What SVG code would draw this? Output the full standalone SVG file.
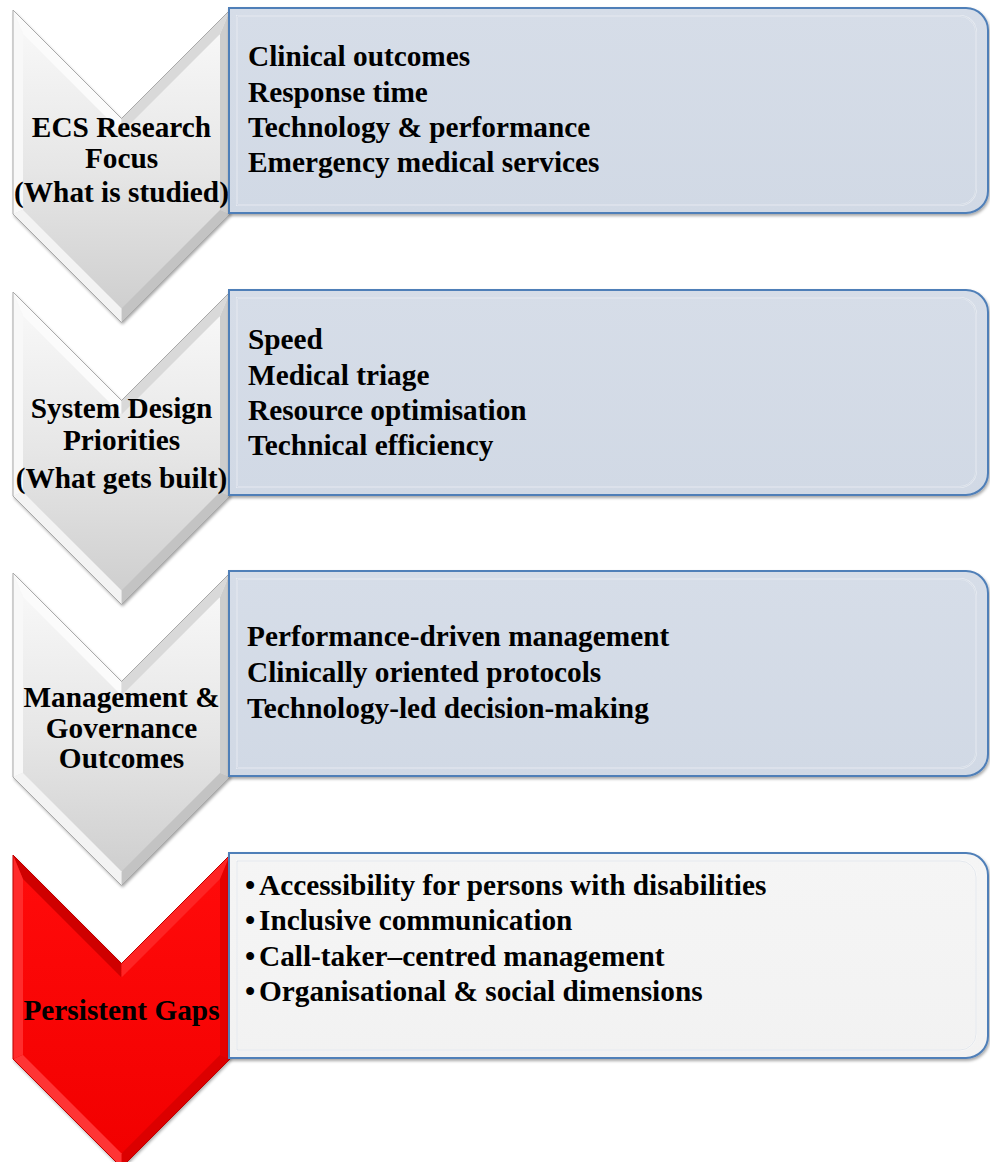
<svg xmlns="http://www.w3.org/2000/svg" width="990" height="1162" viewBox="0 0 990 1162">
  <defs>
    <linearGradient id="grayBody" x1="0" y1="0" x2="0" y2="1">
      <stop offset="0" stop-color="#f7f7f7"/>
      <stop offset="0.5" stop-color="#e6e6e6"/>
      <stop offset="1" stop-color="#cfcfcf"/>
    </linearGradient>
    <linearGradient id="redBody" x1="0" y1="0" x2="0" y2="1">
      <stop offset="0" stop-color="#ff0a0a"/>
      <stop offset="1" stop-color="#f20000"/>
    </linearGradient>
    <linearGradient id="blueBox" x1="0" y1="0" x2="0" y2="1">
      <stop offset="0" stop-color="#d6dde8"/>
      <stop offset="1" stop-color="#d1d9e5"/>
    </linearGradient>
    <linearGradient id="grayBox" x1="0" y1="0" x2="0" y2="1">
      <stop offset="0" stop-color="#f5f5f5"/>
      <stop offset="1" stop-color="#f2f2f2"/>
    </linearGradient>
    <filter id="shadow" x="-5%" y="-5%" width="112%" height="115%">
      <feDropShadow dx="1" dy="2" stdDeviation="1.5" flood-color="#000" flood-opacity="0.35"/>
    </filter>
    <!-- chevron outline, 217 wide, 312.5 tall, 45 degree notch and tip -->
    <path id="chev" d="M0,0 L108.5,108.5 L217,0 L217,204 L108.5,312.5 L0,204 Z"/>
    <path id="chevInner" d="M10,24.14 L108.5,122.64 L207,24.14 L207,199.86 L108.5,298.36 L10,199.86 Z"/>
    <path id="f0" d="M0,0 L108.5,108.5 L108.5,122.64 L10,24.14 Z"/>
    <path id="f1" d="M108.5,108.5 L217,0 L207,24.14 L108.5,122.64 Z"/>
    <path id="f2" d="M217,0 L217,204 L207,199.86 L207,24.14 Z"/>
    <path id="f3" d="M217,204 L108.5,312.5 L108.5,298.36 L207,199.86 Z"/>
    <path id="f4" d="M108.5,312.5 L0,204 L10,199.86 L108.5,298.36 Z"/>
    <path id="f5" d="M0,204 L0,0 L10,24.14 L10,199.86 Z"/>
    <!-- content panel: square left side, rounded right corners -->
    <path id="panel" d="M0,0 H737 A22,22 0 0 1 759,22 V183 A22,22 0 0 1 737,205 H0 Z"/>
    <path id="panelInner" d="M8,8 H731 A16,16 0 0 1 747,24 V181 A16,16 0 0 1 731,197 H8 Z"/>
  </defs>
  <style>
    text { font-family: "Liberation Serif", "Times New Roman", serif; font-weight: bold; font-size: 29.3px; fill: #000; }
    .label { text-anchor: middle; }
    .chev-outline { fill: none; stroke: #a9a9a9; stroke-width: 1; }
    .gray .body { fill: url(#grayBody); }
    .gray .f0 { fill: #fbfbfb; }
    .gray .f1 { fill: #d9d9d9; }
    .gray .f2 { fill: #cdcdcd; }
    .gray .f3 { fill: #c3c3c3; }
    .gray .f4 { fill: #f3f3f3; }
    .gray .f5 { fill: #f8f8f8; }
    .red .body { fill: url(#redBody); }
    .red .f0 { fill: #cf0000; }
    .red .f1 { fill: #ff2424; }
    .red .f2 { fill: #e40000; }
    .red .f3 { fill: #dc0000; }
    .red .f4 { fill: #ff3434; }
    .red .f5 { fill: #ff2c2c; }
    .red .chev-outline { stroke: #c00000; }
    .panel { stroke: #4f7fb8; stroke-width: 2; }
    .panel.blue { fill: url(#blueBox); }
    .panel.light { fill: url(#grayBox); }
    .panel-bevel { fill: none; stroke: #ffffff; stroke-opacity: 0.45; stroke-width: 2; }
    .panel-bevel-dark { fill: none; stroke: #7f93b0; stroke-opacity: 0.18; stroke-width: 1; }
  </style>

  <!-- Stage 1 -->
  <g id="stage1-chevron" class="gray" transform="translate(13,10)">
    <use href="#chev" class="body" filter="url(#shadow)"/>
    <use href="#f0" class="f0"/><use href="#f1" class="f1"/><use href="#f2" class="f2"/>
    <use href="#f3" class="f3"/><use href="#f4" class="f4"/><use href="#f5" class="f5"/>
    <use href="#chevInner" class="body"/>
    <use href="#chev" class="chev-outline"/>
  </g>
  <g id="stage1-label">
    <text class="label" x="121.5" y="137">ECS Research</text>
    <text class="label" x="121.5" y="168">Focus</text>
    <text class="label" x="121.5" y="202">(What is studied)</text>
  </g>
  <g id="stage1-panel" transform="translate(229,8)">
    <use href="#panel" class="panel blue" filter="url(#shadow)"/>
    <use href="#panelInner" class="panel-bevel"/>
    <use href="#panelInner" class="panel-bevel-dark"/>
  </g>
  <g id="stage1-items">
    <text x="248" y="66">Clinical outcomes</text>
    <text x="248" y="102">Response time</text>
    <text x="248" y="137">Technology &amp; performance</text>
    <text x="248" y="172">Emergency medical services</text>
  </g>

  <!-- Stage 2 -->
  <g id="stage2-chevron" class="gray" transform="translate(13,292)">
    <use href="#chev" class="body" filter="url(#shadow)"/>
    <use href="#f0" class="f0"/><use href="#f1" class="f1"/><use href="#f2" class="f2"/>
    <use href="#f3" class="f3"/><use href="#f4" class="f4"/><use href="#f5" class="f5"/>
    <use href="#chevInner" class="body"/>
    <use href="#chev" class="chev-outline"/>
  </g>
  <g id="stage2-label">
    <text class="label" x="121.5" y="418">System Design</text>
    <text class="label" x="121.5" y="450">Priorities</text>
    <text class="label" x="121.5" y="488">(What gets built)</text>
  </g>
  <g id="stage2-panel" transform="translate(229,290)">
    <use href="#panel" class="panel blue" filter="url(#shadow)"/>
    <use href="#panelInner" class="panel-bevel"/>
    <use href="#panelInner" class="panel-bevel-dark"/>
  </g>
  <g id="stage2-items">
    <text x="248" y="349">Speed</text>
    <text x="248" y="385">Medical triage</text>
    <text x="248" y="420">Resource optimisation</text>
    <text x="248" y="455">Technical efficiency</text>
  </g>

  <!-- Stage 3 -->
  <g id="stage3-chevron" class="gray" transform="translate(13,573)">
    <use href="#chev" class="body" filter="url(#shadow)"/>
    <use href="#f0" class="f0"/><use href="#f1" class="f1"/><use href="#f2" class="f2"/>
    <use href="#f3" class="f3"/><use href="#f4" class="f4"/><use href="#f5" class="f5"/>
    <use href="#chevInner" class="body"/>
    <use href="#chev" class="chev-outline"/>
  </g>
  <g id="stage3-label">
    <text class="label" x="121.5" y="707">Management &amp;</text>
    <text class="label" x="121.5" y="738">Governance</text>
    <text class="label" x="121.5" y="768">Outcomes</text>
  </g>
  <g id="stage3-panel" transform="translate(229,571)">
    <use href="#panel" class="panel blue" filter="url(#shadow)"/>
    <use href="#panelInner" class="panel-bevel"/>
    <use href="#panelInner" class="panel-bevel-dark"/>
  </g>
  <g id="stage3-items">
    <text x="247" y="646">Performance-driven management</text>
    <text x="247" y="682">Clinically oriented protocols</text>
    <text x="247" y="718">Technology-led decision-making</text>
  </g>

  <!-- Stage 4 -->
  <g id="stage4-chevron" class="red" transform="translate(13,855)">
    <use href="#chev" class="body" filter="url(#shadow)"/>
    <use href="#f0" class="f0"/><use href="#f1" class="f1"/><use href="#f2" class="f2"/>
    <use href="#f3" class="f3"/><use href="#f4" class="f4"/><use href="#f5" class="f5"/>
    <use href="#chevInner" class="body"/>
    <use href="#chev" class="chev-outline"/>
  </g>
  <g id="stage4-label">
    <text class="label" x="121.5" y="1020">Persistent Gaps</text>
  </g>
  <g id="stage4-panel" transform="translate(229,853)">
    <use href="#panel" class="panel light" filter="url(#shadow)"/>
    <use href="#panelInner" class="panel-bevel"/>
    <use href="#panelInner" class="panel-bevel-dark"/>
  </g>
  <g id="stage4-items">
    <text x="245" y="895">•<tspan x="259">Accessibility for persons with disabilities</tspan></text>
    <text x="245" y="930">•<tspan x="259">Inclusive communication</tspan></text>
    <text x="245" y="966">•<tspan x="259">Call-taker–centred management</tspan></text>
    <text x="245" y="1001">•<tspan x="259">Organisational &amp; social dimensions</tspan></text>
  </g>

  <!-- no connectors: the stages are linked by the chevron shapes themselves -->
  <g id="connectors"/>
</svg>
